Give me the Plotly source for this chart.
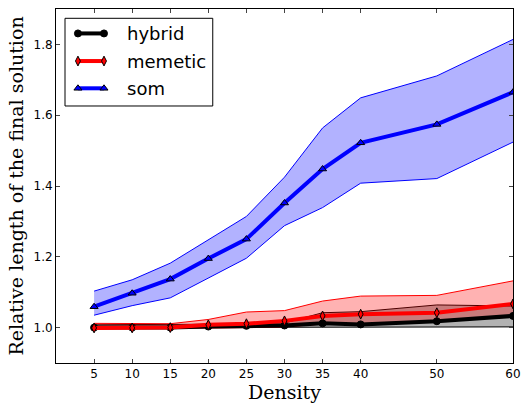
import plotly.graph_objects as go

density = [5, 10, 15, 20, 25, 30, 35, 40, 50, 60]

hybrid_mean = [1.000, 1.000, 1.000, 1.003, 1.005, 1.006, 1.012, 1.009, 1.018, 1.033]
hybrid_low = [0.998, 0.998, 0.998, 0.999, 1.000, 1.001, 1.001, 1.001, 1.002, 1.002]
hybrid_high = [1.008, 1.008, 1.009, 1.010, 1.010, 1.013, 1.042, 1.045, 1.064, 1.061]

memetic_mean = [0.999, 0.999, 1.000, 1.008, 1.011, 1.019, 1.033, 1.038, 1.042, 1.067]
memetic_low = [0.997, 0.997, 0.998, 0.999, 1.000, 1.002, 1.010, 1.008, 1.018, 1.030]
memetic_high = [1.012, 1.012, 1.011, 1.023, 1.044, 1.048, 1.075, 1.089, 1.091, 1.132]

som_mean = [1.059, 1.097, 1.137, 1.195, 1.250, 1.352, 1.448, 1.522, 1.574, 1.665]
som_low = [1.035, 1.062, 1.084, 1.139, 1.196, 1.288, 1.339, 1.408, 1.421, 1.524]
som_high = [1.103, 1.135, 1.182, 1.248, 1.314, 1.425, 1.564, 1.649, 1.711, 1.814]

x_ticks = [5, 10, 15, 20, 25, 30, 35, 40, 50, 60]
y_ticks = [1.0, 1.2, 1.4, 1.6, 1.8]

series = [
    ("hybrid", hybrid_mean, hybrid_low, hybrid_high, "black", "rgba(0,0,0,0.3)", "circle"),
    ("memetic", memetic_mean, memetic_low, memetic_high, "red", "rgba(255,0,0,0.3)", "diamond-tall"),
    ("som", som_mean, som_low, som_high, "blue", "rgba(0,0,255,0.3)", "triangle-up"),
]

fig = go.Figure()

# bands
for name, mean, low, high, col, fillc, sym in series:
    fig.add_trace(go.Scatter(x=density, y=low, mode="lines",
                             line=dict(color=col, width=1), showlegend=False, hoverinfo="skip"))
    fig.add_trace(go.Scatter(x=density, y=high, mode="lines", fill="tonexty", fillcolor=fillc,
                             line=dict(color=col, width=1), showlegend=False, hoverinfo="skip"))

# mean lines
for name, mean, low, high, col, fillc, sym in series:
    fig.add_trace(go.Scatter(x=density, y=mean, mode="lines+markers", name=name,
                             line=dict(color=col, width=4),
                             marker=dict(symbol=sym, size=7, color=col,
                                         line=dict(color="black", width=1)),
                             showlegend=False))

# manual legend (matplotlib style, two markers per sample)
leg_rows = [0.931, 0.853, 0.776]
for (name, mean, low, high, col, fillc, sym), yy in zip(series, leg_rows):
    fig.add_trace(go.Scatter(x=[0.048, 0.105], y=[yy, yy], xaxis="x2", yaxis="y2",
                             mode="lines+markers", line=dict(color=col, width=4),
                             marker=dict(symbol=sym, size=7, color=col,
                                         line=dict(color="black", width=1)),
                             showlegend=False, hoverinfo="skip"))
    fig.add_annotation(x=0.151, y=yy, xref="paper", yref="paper", text=name,
                       showarrow=False, xanchor="left", yanchor="middle",
                       font=dict(family="DejaVu Sans", size=18, color="black"))

fig.add_shape(type="rect", xref="paper", yref="paper", x0=0.0197, x1=0.343, y0=0.726, y1=0.9737,
              line=dict(color="black", width=1), fillcolor="white", layer="below")

fig.update_layout(
    width=522, height=405,
    margin=dict(l=56, r=9, t=9, b=42),
    paper_bgcolor="white", plot_bgcolor="white",
    font=dict(family="DejaVu Sans", size=12, color="black"),
    xaxis=dict(range=[0, 60], tickvals=x_ticks, ticks="inside", ticklen=4, mirror="ticks",
               showline=True, linecolor="black", linewidth=1, showgrid=False, zeroline=False,
               tickfont=dict(size=12), automargin=False, ticklabeloverflow="allow",
               title=dict(text="Density", font=dict(family="DejaVu Serif", size=19), standoff=1)),
    yaxis=dict(range=[0.9, 1.9], tickvals=y_ticks, tickformat=".1f", ticks="inside", ticklen=4,
               mirror="ticks", showline=True, linecolor="black", linewidth=1, showgrid=False,
               zeroline=False, tickfont=dict(size=12), automargin=False, ticklabeloverflow="allow",
               title=dict(text="Relative length of the final solution",
                          font=dict(family="DejaVu Serif", size=19), standoff=4)),
    xaxis2=dict(overlaying="x", range=[0, 1], visible=False),
    yaxis2=dict(overlaying="y", range=[0, 1], visible=False),
)

fig.write_html("out.html", config={"displayModeBar": False},
               post_script="document.body.style.margin='0';document.body.style.overflow='hidden';")
